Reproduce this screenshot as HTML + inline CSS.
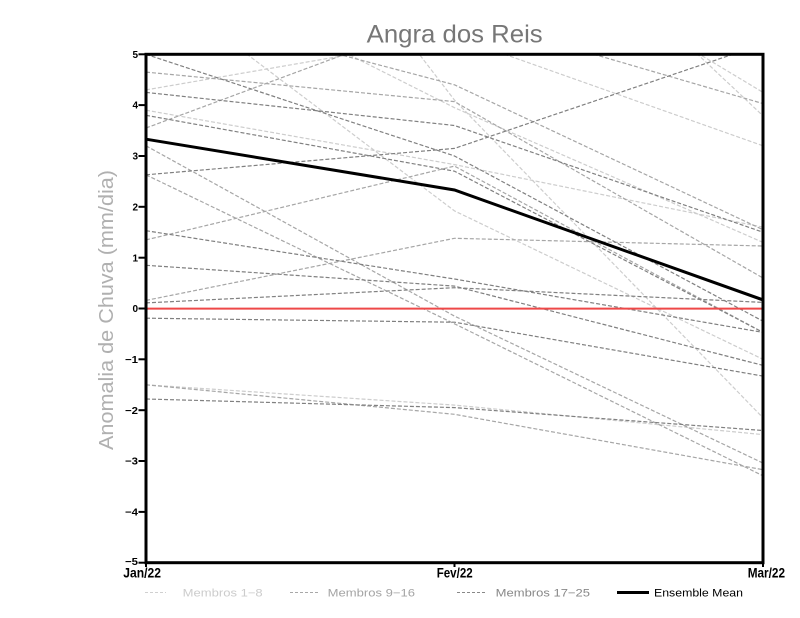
<!DOCTYPE html>
<html>
<head>
<meta charset="utf-8">
<style>
  html,body{margin:0;padding:0;background:#fff;}
  body{width:800px;height:618px;overflow:hidden;}
  svg{display:block;}
  text{font-family:"Liberation Sans",sans-serif;}
</style>
</head>
<body>
<svg width="800" height="618" viewBox="0 0 800 618" xmlns="http://www.w3.org/2000/svg">
  <defs>
    <clipPath id="plot"><rect x="146" y="54.3" width="617" height="508.4"/></clipPath>
  </defs>
  <rect x="0" y="0" width="800" height="618" fill="#fff"/>

  <!-- Title -->
  <text x="366.7" y="42.5" font-size="25" fill="#777" textLength="176" lengthAdjust="spacingAndGlyphs">Angra dos Reis</text>

  <!-- Y axis label -->
  <text transform="translate(113,310) rotate(-90)" text-anchor="middle" font-size="20" fill="#b0b0b0" textLength="280" lengthAdjust="spacingAndGlyphs">Anomalia de Chuva (mm/dia)</text>

  <g clip-path="url(#plot)" fill="none" stroke-width="1.2" stroke-dasharray="4 2">
    <!-- Membros 1-8 (light) -->
    <g stroke="#cdcdcd">
      <polyline points="146,-301.6 454.5,100.1 763,417.8"/>
      <polyline points="146,-22 454.5,210.9 763,359.3"/>
      <polyline points="146,89.9 454.5,36.5 763,145.8"/>
      <polyline points="146,110.2 454.5,164.6 763,227.2"/>
      <polyline points="146,384.8 454.5,405.1 763,434.6"/>
      <polyline points="146,-47.4 454.5,107.7 763,242.4"/>
      <polyline points="146,3.5 454.5,-93.1 763,92.4"/>
      <polyline points="146,28.9 454.5,-174.5 763,115.8"/>
    </g>
    <!-- Membros 9-16 (medium) -->
    <g stroke="#a6a6a6">
      <polyline points="146,72.1 454.5,101.6 763,278"/>
      <polyline points="146,128 454.5,13.6 763,103.6"/>
      <polyline points="146,145.8 454.5,316.1 763,463.1"/>
      <polyline points="146,174.8 454.5,323.8 763,475.8"/>
      <polyline points="146,239.9 454.5,166.1 763,332.4"/>
      <polyline points="146,300.4 454.5,238.3 763,246"/>
      <polyline points="146,384.8 454.5,414.3 763,469.7"/>
      <polyline points="146,3.5 454.5,84.8 763,229.7"/>
    </g>
    <!-- Membros 17-25 (dark) -->
    <g stroke="#808080">
      <polyline points="146,54.3 454.5,156 763,321.2"/>
      <polyline points="146,92.4 454.5,125.5 763,232.2"/>
      <polyline points="146,115.3 454.5,171.2 763,332.4"/>
      <polyline points="146,174.8 454.5,148.4 763,44.1"/>
      <polyline points="146,230.7 454.5,279 763,332.4"/>
      <polyline points="146,265.3 454.5,286.1 763,365.4"/>
      <polyline points="146,302.9 454.5,287.7 763,302.4"/>
      <polyline points="146,318.2 454.5,322.2 763,376.1"/>
      <polyline points="146,399 454.5,407.6 763,430.5"/>
    </g>
  </g>

  <!-- zero line -->
  <line x1="146" y1="308.6" x2="763" y2="308.6" stroke="#ee4848" stroke-width="2"/>

  <!-- Ensemble mean -->
  <polyline points="146,139.2 454.5,190 763,299.9" fill="none" stroke="#000" stroke-width="3"/>

  <!-- Frame -->
  <rect x="146" y="54.3" width="617" height="508.4" fill="none" stroke="#000" stroke-width="3"/>

  <!-- Y ticks -->
  <g stroke="#000" stroke-width="2">
    <line x1="138.5" y1="54.3" x2="146" y2="54.3"/>
    <line x1="138.5" y1="105.1" x2="146" y2="105.1"/>
    <line x1="138.5" y1="156" x2="146" y2="156"/>
    <line x1="138.5" y1="206.8" x2="146" y2="206.8"/>
    <line x1="138.5" y1="257.7" x2="146" y2="257.7"/>
    <line x1="138.5" y1="308.5" x2="146" y2="308.5"/>
    <line x1="138.5" y1="359.3" x2="146" y2="359.3"/>
    <line x1="138.5" y1="410.2" x2="146" y2="410.2"/>
    <line x1="138.5" y1="461" x2="146" y2="461"/>
    <line x1="138.5" y1="511.9" x2="146" y2="511.9"/>
    <line x1="138.5" y1="562.7" x2="146" y2="562.7"/>
    <!-- X ticks -->
    <line x1="146" y1="562.7" x2="146" y2="567"/>
    <line x1="454.5" y1="562.7" x2="454.5" y2="567"/>
    <line x1="763" y1="562.7" x2="763" y2="567"/>
  </g>

  <!-- Y tick labels -->
  <g font-size="10" font-weight="bold" fill="#000" text-anchor="end">
    <text x="138" y="58">5</text>
    <text x="138" y="108.7">4</text>
    <text x="138" y="159.6">3</text>
    <text x="138" y="210.4">2</text>
    <text x="138" y="261.3">1</text>
    <text x="138" y="312.1">0</text>
    <text x="138" y="362.9" textLength="13" lengthAdjust="spacingAndGlyphs">−1</text>
    <text x="138" y="413.8" textLength="13" lengthAdjust="spacingAndGlyphs">−2</text>
    <text x="138" y="464.6" textLength="13" lengthAdjust="spacingAndGlyphs">−3</text>
    <text x="138" y="515.5" textLength="13" lengthAdjust="spacingAndGlyphs">−4</text>
    <text x="138" y="565" textLength="13" lengthAdjust="spacingAndGlyphs">−5</text>
  </g>

  <!-- X tick labels -->
  <g font-size="14" font-weight="bold" fill="#000">
    <text x="123.3" y="577.7" textLength="37.7" lengthAdjust="spacingAndGlyphs">Jan/22</text>
    <text x="436.7" y="577.7" textLength="36" lengthAdjust="spacingAndGlyphs">Fev/22</text>
    <text x="747.7" y="577.7" textLength="37.3" lengthAdjust="spacingAndGlyphs">Mar/22</text>
  </g>

  <!-- Legend -->
  <g stroke-width="1" stroke-dasharray="3 2">
    <line x1="145" y1="592.5" x2="166" y2="592.5" stroke="#d0d0d0"/>
    <line x1="290" y1="592.5" x2="320" y2="592.5" stroke="#a8a8a8"/>
    <line x1="457" y1="592.5" x2="487" y2="592.5" stroke="#888"/>
  </g>
  <line x1="617" y1="592.5" x2="649" y2="592.5" stroke="#000" stroke-width="3"/>
  <g font-size="11">
    <text x="182.7" y="596.3" fill="#cccccc" textLength="80" lengthAdjust="spacingAndGlyphs">Membros 1−8</text>
    <text x="327.7" y="596.3" fill="#a4a4a4" textLength="87.3" lengthAdjust="spacingAndGlyphs">Membros 9−16</text>
    <text x="495.7" y="596.3" fill="#888" textLength="94.3" lengthAdjust="spacingAndGlyphs">Membros 17−25</text>
    <text x="654" y="596.3" fill="#000" textLength="89" lengthAdjust="spacingAndGlyphs">Ensemble Mean</text>
  </g>
</svg>
</body>
</html>
